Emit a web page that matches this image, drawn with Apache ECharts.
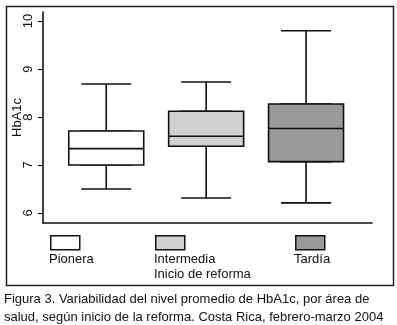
<!DOCTYPE html>
<html>
<head>
<meta charset="utf-8">
<script src="https://cdn.jsdelivr.net/npm/echarts@6/dist/echarts.min.js"></script>
<style>
  html, body { margin: 0; padding: 0; background: #fff; }
  #chart { width: 397px; height: 325px; }
</style>
</head>
<body>
<div id="chart"></div>
<script>
// groups (x position 1..3) and box stats: min, Q1, median, Q3, max
const groups = ['Pionera', 'Intermedia', 'Tardía']
const groupPos = [1, 2, 3]
const whiskerLow = [6.50, 6.31, 6.21]
const q1 = [7.00, 7.39, 7.07]
const median = [7.34, 7.60, 7.76]
const q3 = [7.71, 8.12, 8.27]
const whiskerHigh = [8.69, 8.73, 9.80]
const fills = ['#ffffff', '#d1d1d1', '#999999']
const yTicks = [6, 7, 8, 9, 10]

const legendLabels = ['Pionera', 'Intermedia\nInicio de reforma', 'Tardía']
const caption = [
  'Figura 3. Variabilidad del nivel promedio de HbA1c, por área de',
  'salud, según inicio de la reforma. Costa Rica, febrero-marzo 2004'
]

const chart = echarts.init(document.getElementById('chart'), null, { renderer: 'canvas' })
const font = 'Liberation Sans, Arial, sans-serif'
const ink = '#111'

// narrow series draws whiskers + caps, wide series draws the filled box on top
const whiskerData = groupPos.map((x, i) => [x, whiskerLow[i], q1[i], median[i], q3[i], whiskerHigh[i]])
const boxData = groupPos.map((x, i) => ({
  value: [x, q1[i], q1[i], median[i], q3[i], q3[i]],
  itemStyle: { color: fills[i] }
}))

const legendGraphics = []
const legendX = [50, 155, 295]
legendX.forEach((x, i) => {
  legendGraphics.push({
    type: 'rect',
    left: x, top: 235,
    shape: { width: 29, height: 14 },
    style: { fill: fills[i], stroke: ink, lineWidth: 1.5 }
  })
  legendGraphics.push({
    type: 'text',
    left: x - 1, top: 252,
    style: { text: legendLabels[i], font: '13px ' + font, fill: ink, lineHeight: 15 }
  })
})

const xBase = {
  type: 'value',
  min: 0.367,
  max: 3.66,
  axisTick: { show: false },
  axisLabel: { show: false },
  splitLine: { show: false }
}

chart.setOption({
  backgroundColor: '#fff',
  animation: false,
  grid: { left: 43, right: 25, top: 12, bottom: 102, containLabel: false, outerBoundsMode: 'none' },
  xAxis: [
    Object.assign({}, xBase, {
      axisLine: { show: true, onZero: false, lineStyle: { color: ink, width: 1.6 } }
    }),
    Object.assign({}, xBase, { axisLine: { show: false } })
  ],
  yAxis: {
    type: 'value',
    min: 5.79,
    max: 10.19,
    name: 'HbA1c',
    nameLocation: 'middle',
    nameGap: 19,
    nameRotate: 90,
    nameMoveOverlap: false,
    nameTextStyle: { color: ink, fontSize: 13, fontFamily: font },
    axisLine: { show: true, onZero: false, lineStyle: { color: ink, width: 1.6 } },
    axisTick: { show: true, length: 5, customValues: yTicks, lineStyle: { color: ink, width: 1.2 } },
    axisLabel: { rotate: 90, color: ink, fontSize: 13, fontFamily: font, margin: 8, customValues: yTicks },
    splitLine: { show: false }
  },
  series: [
    {
      type: 'boxplot',
      xAxisIndex: 0,
      data: whiskerData,
      boxWidth: [50, 50],
      z: 2,
      itemStyle: { color: '#fff', borderColor: ink, borderWidth: 1.6 }
    },
    {
      type: 'boxplot',
      xAxisIndex: 1,
      data: boxData,
      boxWidth: [75, 75],
      z: 3,
      itemStyle: { borderColor: ink, borderWidth: 1.6 }
    }
  ],
  graphic: [
    {
      type: 'rect',
      left: 4, top: 4, z: -1,
      shape: { width: 387, height: 279 },
      style: { fill: 'none', stroke: '#222', lineWidth: 1.5 }
    },
    ...legendGraphics,
    {
      type: 'text',
      left: 4, top: 290,
      style: { text: caption.join('\n'), font: '13px ' + font, fill: ink, lineHeight: 18 }
    }
  ]
})
</script>
</body>
</html>
